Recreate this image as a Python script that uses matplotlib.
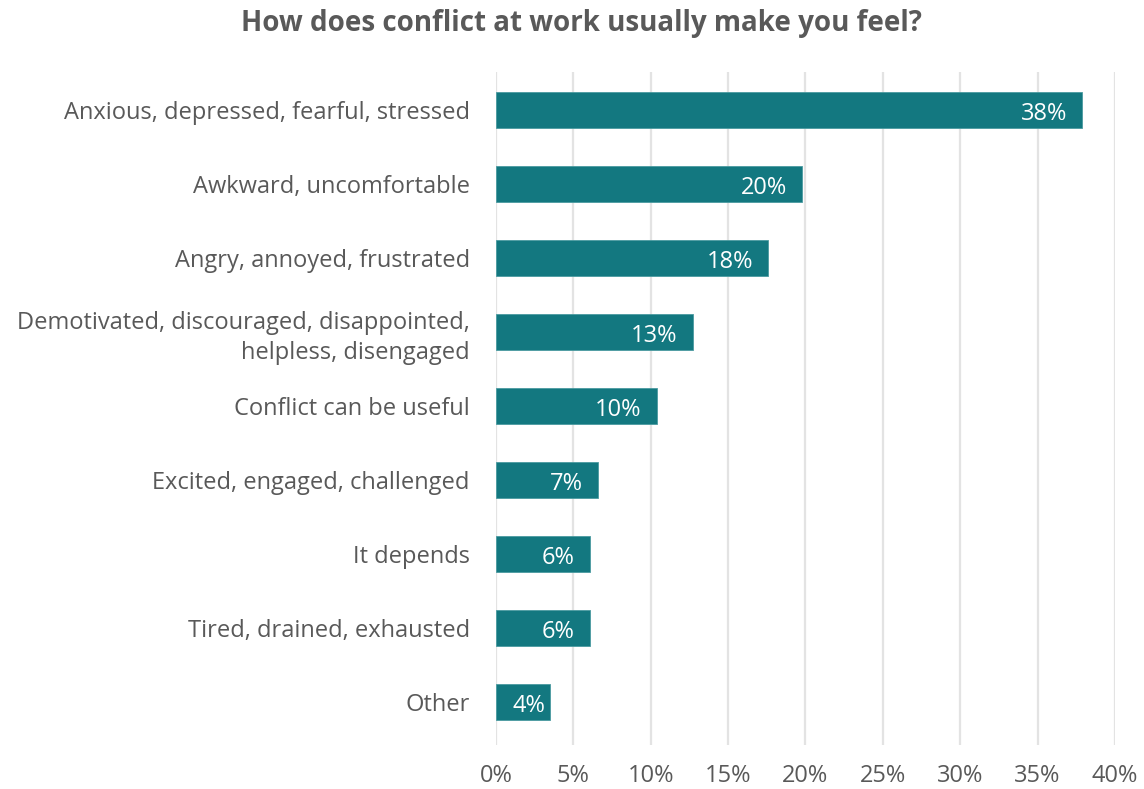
import matplotlib.pyplot as plt

plt.rcParams['font.family'] = ['Open Sans', 'DejaVu Sans']

categories = [
    "Anxious, depressed, fearful, stressed",
    "Awkward, uncomfortable",
    "Angry, annoyed, frustrated",
    "Demotivated, discouraged, disappointed,\nhelpless, disengaged",
    "Conflict can be useful",
    "Excited, engaged, challenged",
    "It depends",
    "Tired, drained, exhausted",
    "Other",
]
values = [37.9, 19.8, 17.6, 12.7, 10.4, 6.6, 6.1, 6.1, 3.5]
value_labels = ["38%", "20%", "18%", "13%", "10%", "7%", "6%", "6%", "4%"]
xticks = [0, 5, 10, 15, 20, 25, 30, 35, 40]

BAR = "#137880"
TEXT = "#595959"
GRID = "#e3e3e3"

fig = plt.figure(figsize=(11.44, 7.89), dpi=100)
ax = fig.add_axes([0.4336, 0.0558, 0.5410, 0.8529])

ypos = list(range(len(categories)))
ax.barh(ypos, values, height=0.49, color=BAR, edgecolor="#4a9aa0", linewidth=0.6, zorder=3)

# value labels inside the bar ends (short bars: keep label inside the bar)
for y, v, lab in zip(ypos, values, value_labels):
    x = max(v - 1.0, 3.2)
    ax.text(x, y + 0.05, lab, ha="right", va="center", color="white", fontsize=17, zorder=4)

ax.set_xlim(0, 40)
ax.set_ylim(8.58, -0.514)
ax.set_xticks(xticks)
ax.set_xticklabels([f"{t}%" for t in xticks], fontsize=17, color=TEXT)
ax.set_yticks(ypos)
ax.set_yticklabels(categories, fontsize=17, color=TEXT, linespacing=1.35)
ax.tick_params(axis="both", length=0)
ax.tick_params(axis="x", pad=14)
ax.tick_params(axis="y", pad=19)

ax.grid(axis="x", color=GRID, linewidth=1.6, zorder=0)
ax.set_axisbelow(True)
for s in ax.spines.values():
    s.set_visible(False)

fig.suptitle("How does conflict at work usually make you feel?", x=0.508, y=0.988,
             fontsize=20, fontweight="bold", color=TEXT)

fig.savefig("out.png", dpi=100)
